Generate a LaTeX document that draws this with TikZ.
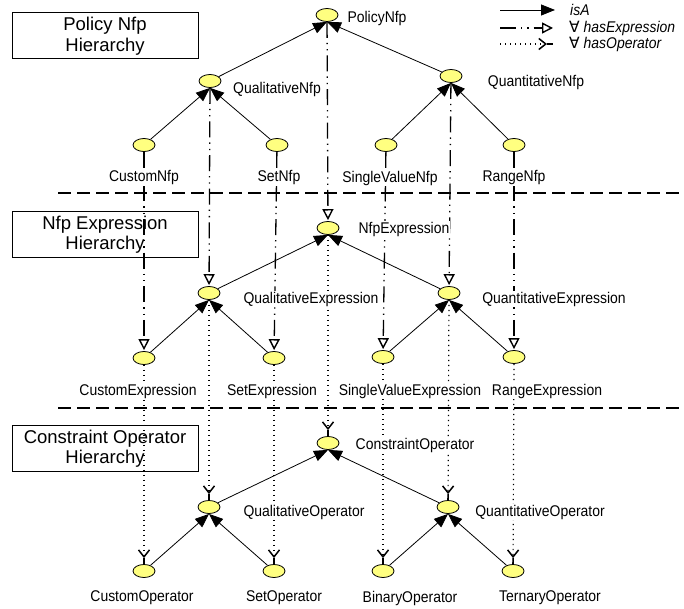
\documentclass[tikz,border=0pt]{standalone}
\usepackage{fontspec}
\setmainfont{Liberation Sans}
\newfontfamily\narrowsans[FakeStretch=0.9]{Liberation Sans}
\newfontfamily\symsans{DejaVu Sans}
\usetikzlibrary{arrows.meta,shapes.geometric}
\definecolor{classfill}{RGB}{255,255,128}

\tikzset{
  cls/.style={ellipse,draw,line width=0.8pt,fill=classfill,minimum width=22pt,minimum height=13pt,inner sep=0pt},
  lbl/.style={fill=white,inner sep=1pt,font=\narrowsans\fontsize{15.5}{18}\selectfont},
  isa/.style={line width=0.8pt,-{Triangle[length=14pt,width=11pt]}},
  hasexp/.style={line width=1.3pt,dash pattern=on 16pt off 5pt on 1.3pt off 5pt on 1.3pt off 5pt,
    -{Triangle[open,length=11pt,width=11pt,line width=1.4pt]},shorten >=1pt},
  hasop/.style={line width=1.2pt,dash pattern=on 1.2pt off 3.8pt,
    -{Straight Barb[length=7pt,width=11pt,line width=1.5pt,sep=0pt]Rectangle[length=6pt,width=1.6pt]}},
  sepline/.style={line width=2pt,dash pattern=on 13pt off 6pt},
  titlebox/.style={draw,line width=1pt,minimum width=186pt,minimum height=46pt,align=center,
    inner sep=0pt,font=\fontsize{18.5}{20.5}\selectfont},
  legendtext/.style={anchor=west,inner sep=0pt,font=\narrowsans\fontsize{15.5}{18}\selectfont\itshape},
}

\begin{document}
\begin{tikzpicture}[x=1pt,y=-1pt]
\useasboundingbox (0,0) rectangle (684,609);

% section titles
\node[titlebox] (t1) at (105,36) {Policy Nfp\\Hierarchy};
\node[titlebox] (t2) at (105,234.5) {Nfp Expression\\Hierarchy};
\node[titlebox] (t3) at (105,448.5) {Constraint Operator\\Hierarchy};

% separators between the three hierarchies
\coordinate (s1a) at (58,193);  \coordinate (s1b) at (681,193);
\coordinate (s2a) at (58,408);  \coordinate (s2b) at (681,408);
\draw[sepline] (s1a) -- (s1b);
\draw[sepline] (s2a) -- (s2b);

% Nfp classes
\node[cls] (pn)  at (327,15)  {};
\node[cls] (qln) at (210,81)  {};
\node[cls] (qtn) at (451,76)  {};
\node[cls] (cn)  at (144,145) {};
\node[cls] (sn)  at (277,145) {};
\node[cls] (svn) at (386,145) {};
\node[cls] (rn)  at (514,145) {};

% expression classes
\node[cls] (nx)  at (328,228) {};
\node[cls] (qlx) at (209,293) {};
\node[cls] (qtx) at (449,293) {};
\node[cls] (cx)  at (144,358) {};
\node[cls] (sx)  at (274,358) {};
\node[cls] (svx) at (383,357) {};
\node[cls] (rx)  at (514,357) {};

% operator classes
\node[cls] (co)  at (328,443) {};
\node[cls] (qlo) at (209,507) {};
\node[cls] (qto) at (448,507) {};
\node[cls] (cop) at (144,571) {};
\node[cls] (so)  at (274,571) {};
\node[cls] (bo)  at (383,571) {};
\node[cls] (to)  at (513,571) {};

% hasExpression
\draw[hasexp] (pn)  -- (nx);
\draw[hasexp] (qln) -- (qlx);
\draw[hasexp] (qtn) -- (qtx);
\draw[hasexp] (cn)  -- (cx);
\draw[hasexp] (sn)  -- (sx);
\draw[hasexp] (svn) -- (svx);
\draw[hasexp] (rn)  -- (rx);

% hasOperator
\draw[hasop] (nx)  -- (co);
\draw[hasop] (qlx) -- (qlo);
\draw[hasop] (qtx) -- (qto);
\draw[hasop] (cx)  -- (cop);
\draw[hasop] (sx)  -- (so);
\draw[hasop] (svx) -- (bo);
\draw[hasop] (rx)  -- (to);

% isA
\draw[isa] (qln) -- (pn.south);
\draw[isa] (qtn) -- (pn.south);
\draw[isa] (cn)  -- (qln.south);
\draw[isa] (sn)  -- (qln.south);
\draw[isa] (svn) -- (qtn.south);
\draw[isa] (rn)  -- (qtn.south);
\draw[isa] (qlx) -- (nx.south);
\draw[isa] (qtx) -- (nx.south);
\draw[isa] (cx)  -- (qlx.south);
\draw[isa] (sx)  -- (qlx.south);
\draw[isa] (svx) -- (qtx.south);
\draw[isa] (rx)  -- (qtx.south);
\draw[isa] (qlo) -- (co.south);
\draw[isa] (qto) -- (co.south);
\draw[isa] (cop) -- (qlo.south);
\draw[isa] (so)  -- (qlo.south);
\draw[isa] (bo)  -- (qto.south);
\draw[isa] (to)  -- (qto.south);

% class names
\node[lbl] (pnl)  at (377,18)  {PolicyNfp};
\node[lbl] (qlnl) at (277,89)  {QualitativeNfp};
\node[lbl] (qtnl) at (536,82)  {QuantitativeNfp};
\node[lbl] (cnl)  at (144,178) {CustomNfp};
\node[lbl] (snl)  at (279,178) {SetNfp};
\node[lbl] (svnl) at (390,178) {SingleValueNfp};
\node[lbl] (rnl)  at (514,178) {RangeNfp};

\node[lbl] (nxl)  at (404,229) {NfpExpression};
\node[lbl] (qlxl) at (311,299) {QualitativeExpression};
\node[lbl] (qtxl) at (554,299) {QuantitativeExpression};
\node[lbl] (cxl)  at (138,391) {CustomExpression};
\node[lbl] (sxl)  at (272,391) {SetExpression};
\node[lbl] (svxl) at (410,391) {SingleValueExpression};
\node[lbl] (rxl)  at (547,391) {RangeExpression};

\node[lbl] (col)  at (415,445) {ConstraintOperator};
\node[lbl] (qlol) at (304,512) {QualitativeOperator};
\node[lbl] (qtol) at (540,512) {QuantitativeOperator};
\node[lbl] (copl) at (142,598) {CustomOperator};
\node[lbl] (sol)  at (284,598) {SetOperator};
\node[lbl] (bol)  at (410,598) {BinaryOperator};
\node[lbl] (tol)  at (550,598) {TernaryOperator};

% legend
\coordinate (la1) at (500,10); \coordinate (lb1) at (555,10);
\coordinate (la2) at (500,28); \coordinate (lb2) at (553,28);
\coordinate (la3) at (500,44); \coordinate (lb3) at (553,44);
\draw[isa] (la1) -- (lb1);
\draw[hasexp,shorten >=0pt] (la2) -- (lb2);
\draw[hasop] (la3) -- (lb3);
\node[legendtext] (lt1) at (570,10) {isA};
\node[legendtext] (lt2) at (569,28) {{\symsans\itshape ∀} hasExpression};
\node[legendtext] (lt3) at (569,44) {{\symsans\itshape ∀} hasOperator};
\end{tikzpicture}
\end{document}
